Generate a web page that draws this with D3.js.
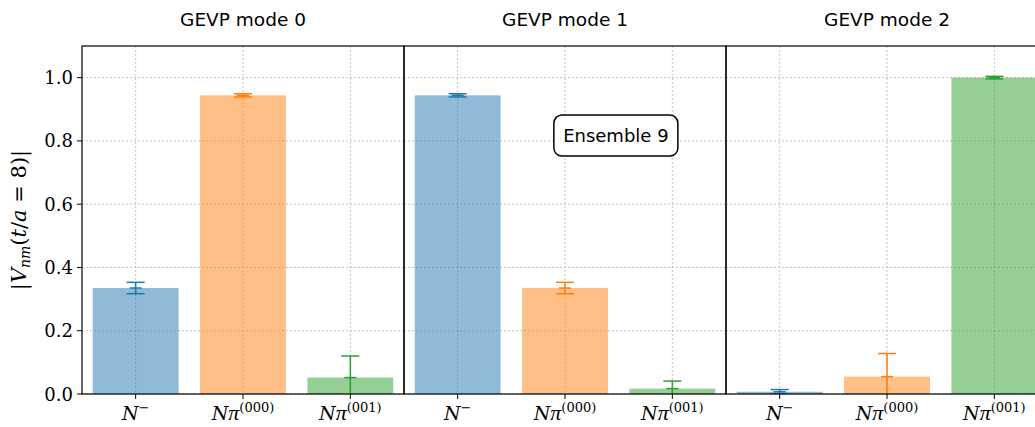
<!DOCTYPE html>
<html><head><meta charset="utf-8">
<script src="https://cdn.jsdelivr.net/npm/d3@7"></script>
<style>body{margin:0;background:#fff}svg{display:block}</style>
</head><body>
<svg id="c" width="1035" height="427"></svg>
<script>
const modes = ["GEVP mode 0", "GEVP mode 1", "GEVP mode 2"];
const categories = ["N-", "Npi000", "Npi001"];
const catSup = ["\u2212", "(000)", "(001)"];
const catPi = [false, true, true];
const mode0Values = [0.335, 0.944, 0.052];
const mode1Values = [0.944, 0.335, 0.017];
const mode2Values = [0.007, 0.055, 1.000];
const mode0Errors = [0.018, 0.005, 0.068];
const mode1Errors = [0.005, 0.018, 0.024];
const mode2Errors = [0.007, 0.073, 0.004];
const yTicks = [0.0, 0.2, 0.4, 0.6, 0.8, 1.0];
const annotation = "Ensemble 9";

const values = [mode0Values, mode1Values, mode2Values];
const errors = [mode0Errors, mode1Errors, mode2Errors];
const colors = ["#1f77b4", "#ff7f0e", "#2ca02c"];

const svg = d3.select("#c");
const pLeft = 82, panelW = 322, pTop = 46, pBottom = 394;
const y = d3.scaleLinear().domain([0, 1.1]).range([pBottom, pTop]);
const serif = "DejaVu Serif";
const sans = "DejaVu Sans";

modes.forEach((m, i) => {
  const x0 = pLeft + i * panelW;
  const x = d3.scaleLinear().domain([-0.5, 2.5]).range([x0, x0 + panelW]);
  const g = svg.append("g");
  g.selectAll(".hg").data(yTicks).enter().append("line")
    .attr("x1", x0).attr("x2", x0 + panelW)
    .attr("y1", d => y(d)).attr("y2", d => y(d))
    .attr("stroke", "#b0b0b0").attr("stroke-width", 0.8).attr("stroke-dasharray", "2,2");
  g.selectAll(".vg").data(categories).enter().append("line")
    .attr("x1", (d, j) => x(j)).attr("x2", (d, j) => x(j))
    .attr("y1", pTop).attr("y2", pBottom)
    .attr("stroke", "#b0b0b0").attr("stroke-width", 0.8).attr("stroke-dasharray", "2,2");
  g.selectAll(".bar").data(values[i]).enter().append("rect")
    .attr("x", (d, j) => x(j - 0.4)).attr("width", x(0.4) - x(-0.4))
    .attr("y", d => y(d)).attr("height", d => y(0) - y(d))
    .attr("fill", (d, j) => colors[j]).attr("fill-opacity", 0.5);
  const clipId = "clip" + i;
  svg.append("clipPath").attr("id", clipId).append("rect")
    .attr("x", x0).attr("y", pTop).attr("width", panelW).attr("height", pBottom - pTop);
  const eg = g.append("g").attr("clip-path", `url(#${clipId})`);
  values[i].forEach((v, j) => {
    const e = errors[i][j];
    const cx = x(j);
    const c = colors[j];
    eg.append("line").attr("x1", cx).attr("x2", cx).attr("y1", y(v - e)).attr("y2", y(v + e))
      .attr("stroke", c).attr("stroke-width", 1.5);
    [v - e, v + e].forEach(t => eg.append("line").attr("x1", cx - 9).attr("x2", cx + 9)
      .attr("y1", y(t)).attr("y2", y(t)).attr("stroke", c).attr("stroke-width", 1.5));
    eg.append("line").attr("x1", cx - 6).attr("x2", cx + 6).attr("y1", y(v)).attr("y2", y(v))
      .attr("stroke", c).attr("stroke-width", 1.5);
  });
  g.append("rect").attr("x", x0).attr("y", pTop).attr("width", panelW).attr("height", pBottom - pTop)
    .attr("fill", "none").attr("stroke", "#000").attr("stroke-width", 1.2);
  categories.forEach((c, j) => {
    g.append("line").attr("x1", x(j)).attr("x2", x(j)).attr("y1", pBottom).attr("y2", pBottom + 5)
      .attr("stroke", "#000").attr("stroke-width", 1);
    const t = g.append("text").attr("x", x(j)).attr("y", 420).attr("text-anchor", "middle")
      .attr("font-family", serif).attr("font-size", 19);
    t.append("tspan").attr("font-style", "italic").text("N");
    if (catPi[j]) t.append("tspan").attr("font-style", "italic")
      .attr("font-family", "Liberation Serif").attr("font-size", 22).text("\u03c0");
    t.append("tspan").attr("font-size", 13).attr("dy", -8).text(catSup[j]);
  });
  svg.append("text").attr("x", x0 + panelW / 2).attr("y", 26).attr("text-anchor", "middle")
    .attr("font-family", sans).attr("font-size", 18.5).text(m);
  if (i === 1) {
    const ax = x(1.474), ay = y(0.817);
    const bw = 124, bh = 41;
    g.append("rect").attr("x", ax - bw / 2).attr("y", ay - bh / 2).attr("width", bw).attr("height", bh)
      .attr("rx", 8).attr("fill", "#fff").attr("stroke", "#000").attr("stroke-width", 1.5);
    g.append("text").attr("x", ax).attr("y", ay + 6.5).attr("text-anchor", "middle")
      .attr("font-family", sans).attr("font-size", 18).text(annotation);
  }
  if (i === 0) {
    yTicks.forEach(t => {
      g.append("line").attr("x1", x0 - 5).attr("x2", x0).attr("y1", y(t)).attr("y2", y(t))
        .attr("stroke", "#000").attr("stroke-width", 1);
      g.append("text").attr("x", x0 - 9).attr("y", y(t) + 6.5).attr("text-anchor", "end")
        .attr("font-family", serif).attr("font-size", 18).text(t.toFixed(1));
    });
  }
});

const yl = svg.append("text").attr("transform", `translate(26,220) rotate(-90)`)
  .attr("text-anchor", "middle").attr("font-family", serif).attr("font-size", 21);
yl.append("tspan").text("|");
yl.append("tspan").attr("font-style", "italic").text("V");
yl.append("tspan").attr("font-style", "italic").attr("font-size", 14).attr("dy", 4).text("nm");
yl.append("tspan").attr("dy", -4).text("(");
yl.append("tspan").attr("font-style", "italic").text("t");
yl.append("tspan").text("/");
yl.append("tspan").attr("font-style", "italic").text("a");
yl.append("tspan").text(" = 8)|");
</script>
</body></html>
